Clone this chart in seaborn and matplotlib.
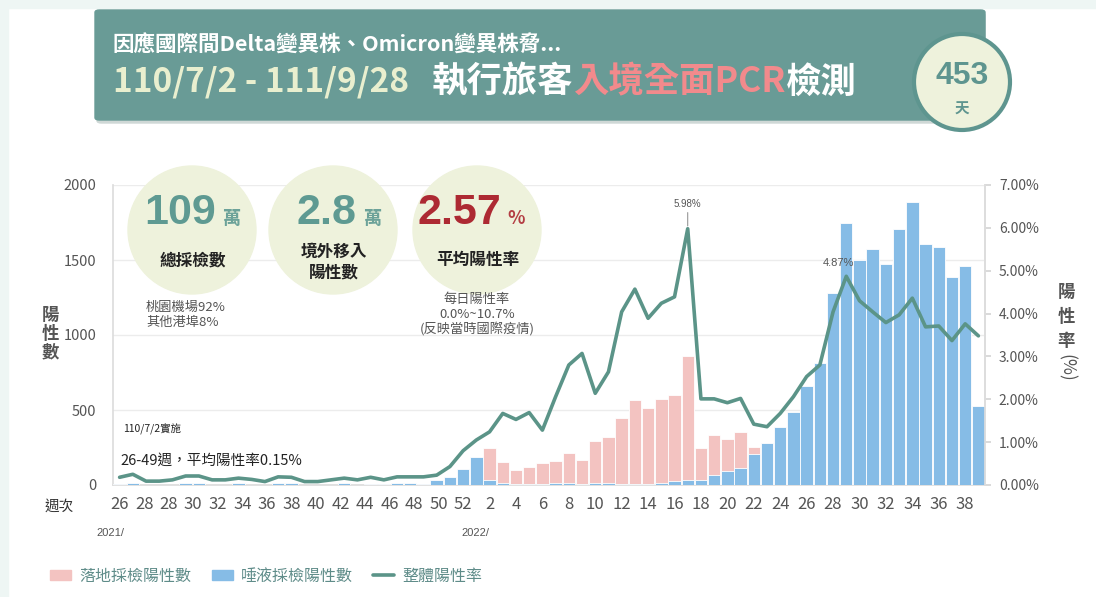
import numpy as np
import pandas as pd
import matplotlib
matplotlib.use("Agg")
import matplotlib.pyplot as plt
import seaborn as sns
from matplotlib.patches import Ellipse, FancyBboxPatch, Patch
from matplotlib.lines import Line2D

# ---- data ----
weeks_2021 = list(range(26, 53))
weeks_2022 = list(range(1, 40))

saliva = [5, 11, 3, 3, 3, 11, 11, 3, 3, 11, 3, 3, 11, 11, 3, 3, 3, 11, 3, 8,
          5, 13, 13, 10, 33, 56, 104, 189,
          33, 11, 7, 7, 7, 11, 11, 7, 15, 15, 7, 7, 7, 15, 26, 33, 33, 67, 96, 111, 207,
          278, 389, 484, 660, 816, 1282, 1744, 1500, 1573, 1473, 1707, 1884, 1607,
          1584, 1389, 1462, 529]
landing = [0] * 28 + [216, 140, 93, 115, 142, 151, 200, 160, 281, 307, 442, 560, 509,
                      556, 574, 827, 211, 265, 210, 240, 49] + [0] * 17
rate = [0.18, 0.25, 0.09, 0.09, 0.12, 0.21, 0.21, 0.12, 0.12, 0.16, 0.13, 0.08,
        0.19, 0.18, 0.08, 0.08, 0.12, 0.16, 0.12, 0.18, 0.12, 0.19, 0.19, 0.19,
        0.23, 0.43, 0.80, 1.05,
        1.24, 1.67, 1.53, 1.69, 1.28, 2.06, 2.80, 3.07, 2.14, 2.64, 4.04, 4.57,
        3.89, 4.24, 4.39, 5.98, 2.01, 2.01, 1.92, 2.02, 1.42, 1.36, 1.67, 2.06,
        2.53, 2.80, 4.04, 4.87, 4.30, 4.04, 3.79, 3.97, 4.36, 3.69, 3.71, 3.37,
        3.76, 3.48]

labels_2021 = ["26", "28", "28", "30", "32", "34", "36", "38", "40", "42",
               "44", "46", "48", "50", "52"]
labels_2022 = [str(w) for w in range(2, 39, 2)]
peak_labels = {"2022-17": "5.98%", "2022-29": "4.87%"}

week_ids = [f"2021-{w}" for w in weeks_2021] + [f"2022-{w}" for w in weeks_2022]
df = pd.DataFrame({"week": week_ids, "saliva": saliva, "landing": landing, "rate": rate})
df["total"] = df["saliva"] + df["landing"]
df["pos"] = np.arange(len(df))

# ---- style ----
W, H = 1096, 597
sns.set_theme(style="white")
plt.rcParams["font.family"] = ["Noto Sans CJK TC", "DejaVu Sans"]
NUM = ["Liberation Sans", "Noto Sans CJK TC"]

TEAL = "#5b9488"
BANNER = "#699b96"
BLUE = "#86bce6"
PINK = "#f3c3c1"
CIRCLE = "#eef2dc"
GRAY = "#555555"


def fx(x):
    return x / W


def fy(y):
    return 1 - y / H


fig = plt.figure(figsize=(W / 100, H / 100), dpi=100)
renderer = fig.canvas.get_renderer()

# page frame
fig.add_artist(plt.Rectangle((0, 0), fx(8), 1, transform=fig.transFigure,
                             color="#eef6f4", zorder=0))
fig.add_artist(plt.Rectangle((0, fy(8)), 1, 1, transform=fig.transFigure,
                             color="#eef6f4", zorder=0))

ax = fig.add_axes([fx(113), fy(485), fx(872), 300 / H])
sns.barplot(data=df, x="week", y="total", order=week_ids, color=PINK, saturation=1,
            width=0.94, edgecolor="white", linewidth=0.6, ax=ax, zorder=2)
sns.barplot(data=df, x="week", y="saliva", order=week_ids, color=BLUE, saturation=1,
            width=0.94, edgecolor="white", linewidth=0.6, ax=ax, zorder=3)
ax.set_ylim(0, 2000)
ax.set_yticks([0, 500, 1000, 1500, 2000])
ax.set_yticklabels(["0", "500", "1000", "1500", "2000"])
ax.set_xlabel("")
ax.set_ylabel("")
ax.grid(axis="y", color="#ececec", lw=1)
ax.set_axisbelow(True)
for s in ["left", "bottom", "right"]:
    ax.spines[s].set_color("#dddddd")
ax.spines["top"].set_visible(False)
ax.tick_params(axis="y", length=0, labelsize=10.5, labelcolor=GRAY, pad=12)

# x ticks
pos_2021 = np.linspace(0, weeks_2021.index(52), len(labels_2021))
pos_2022 = [week_ids.index(f"2022-{l}") for l in labels_2022]
ax.set_xticks(list(pos_2021) + pos_2022)
ax.set_xticklabels(labels_2021 + labels_2022)
ax.set_xticks(np.arange(len(df) + 1) - 0.5, minor=True)
ax.tick_params(axis="x", which="major", length=0, labelsize=12, labelcolor=GRAY, pad=8)
ax.tick_params(axis="x", which="minor", length=5, color="#d5d5d5", width=1)
ax.set_xlim(-0.5, len(df) - 0.5)

ax2 = ax.twinx()
sns.lineplot(data=df, x="pos", y="rate", color=TEAL, lw=2.6, ax=ax2, zorder=5)
ax2.set_ylim(0, 7)
ax2.set_yticks(range(0, 8))
ax2.set_yticklabels([f"{v:.2f}%" for v in range(0, 8)])
ax2.tick_params(axis="y", length=4, color="#d5d5d5", labelsize=10, labelcolor=GRAY, pad=6)
ax2.set_ylabel("")
ax2.set_xlabel("")
for s in ["left", "bottom", "top"]:
    ax2.spines[s].set_visible(False)
ax2.spines["right"].set_color("#dddddd")
ax2.set_xlim(-0.5, len(df) - 0.5)

for wk, txt in peak_labels.items():
    r = df.loc[df["week"] == wk].iloc[0]
    if txt == "5.98%":
        ax2.annotate(txt, (r["pos"], r["rate"]), xytext=(0, 14), textcoords="offset points",
                     ha="center", va="bottom", fontsize=7, color=GRAY, family=NUM,
                     arrowprops=dict(arrowstyle="-", color="#888888", lw=0.7,
                                     shrinkA=0, shrinkB=2))
    else:
        ax2.annotate(txt, (r["pos"], r["rate"]), xytext=(-6, 6), textcoords="offset points",
                     ha="center", va="bottom", fontsize=8, color=GRAY, family=NUM)

ax.text(0.3, 370, "110/7/2實施", fontsize=7.5, color="#222222", va="center")
ax.text(0.1, 160, "26-49週，平均陽性率0.15%", fontsize=10.5, color="#222222", va="center")

# axis titles
fig.text(fx(50), fy(334), "陽\n性\n數", fontsize=12.5, fontweight="bold", color=GRAY,
         ha="center", va="center", linespacing=1.05)
for ch, yy in zip("陽性率", [292, 317, 341]):
    fig.text(fx(1066), fy(yy), ch, fontsize=12.5, fontweight="bold", color=GRAY,
             ha="center", va="center")
fig.text(fx(1066), fy(368), "(%)", fontsize=12.5, color=GRAY, rotation=-90,
         ha="center", va="center")
fig.text(fx(59), fy(507), "週次", fontsize=10.5, color="#333333", ha="center", va="center")
fig.text(fx(110), fy(533), "2021/", fontsize=8, color=GRAY, ha="center", va="center", family=NUM)
fig.text(fx(475), fy(533), "2022/", fontsize=8, color=GRAY, ha="center", va="center", family=NUM)

# header banner
fig.add_artist(FancyBboxPatch((fx(97), fy(123)), fx(888), 110 / H,
                              boxstyle="round,pad=0,rounding_size=0.004",
                              transform=fig.transFigure, color="#cfd8d6", zorder=2))
fig.add_artist(FancyBboxPatch((fx(95), fy(120)), fx(890), 110 / H,
                              boxstyle="round,pad=0,rounding_size=0.004",
                              transform=fig.transFigure, color=BANNER, zorder=3))
fig.text(fx(112), fy(45), "因應國際間Delta變異株、Omicron變異株脅...", fontsize=15.5,
         fontweight="bold", color="white", va="center", zorder=4)
fig.text(fx(113), fy(82), "110/7/2 - 111/9/28", fontsize=24, fontweight="bold",
         color="#e9efcf", va="center", zorder=4)
x0 = 432
for piece, col in [("執行旅客", "white"), ("入境全面PCR", "#f28a8c"), ("檢測", "white")]:
    t = fig.text(fx(x0), fy(82), piece, fontsize=25.5, fontweight="bold", color=col,
                 va="center", zorder=4)
    x0 += t.get_window_extent(renderer).width
fig.add_artist(Ellipse((fx(962), fy(82)), 96 / W, 96 / H, transform=fig.transFigure,
                       facecolor=CIRCLE, edgecolor="#5e958f", lw=3, zorder=5))
fig.text(fx(962), fy(76), "453", fontsize=23, fontweight="bold", color="#5e958f",
         ha="center", va="center", family=NUM, zorder=6)
fig.text(fx(962), fy(109), "天", fontsize=10.5, fontweight="bold", color="#5e958f",
         ha="center", va="center", zorder=6)

# summary circles
circles = [
    (192, "109", "萬", "總採檢數", "#5e9a92"),
    (333, "2.8", "萬", "境外移入\n陽性數", "#5e9a92"),
    (477, "2.57", "%", "平均陽性率", "#ad2a33"),
]
for cx, big, unit, cap, col in circles:
    fig.add_artist(Ellipse((fx(cx), fy(230)), 128 / W, 128 / H, transform=fig.transFigure,
                           color=CIRCLE, zorder=3))
    fig.text(fx(cx + 24), fy(213), big, fontsize=31, fontweight="bold", color=col,
             ha="right", va="center", family=NUM, zorder=4)
    fig.text(fx(cx + 30), fy(219), unit, fontsize=13, fontweight="bold", color=col,
             ha="left", va="center", zorder=4, alpha=0.9)
    fig.text(fx(cx + 1), fy(260 if "\n" not in cap else 262), cap, fontsize=12,
             fontweight="bold", color="#222222", ha="center", va="center",
             linespacing=1.2, zorder=4)

fig.text(fx(146), fy(315), "桃園機場92%\n其他港埠8%", fontsize=9.5, color=GRAY,
         ha="left", va="center", linespacing=1.15, zorder=4)
fig.text(fx(477), fy(315), "每日陽性率\n0.0%~10.7%\n(反映當時國際疫情)", fontsize=9.5,
         color=GRAY, ha="center", va="center", linespacing=1.15, zorder=4)

handles = [Patch(color=PINK), Patch(color=BLUE), Line2D([], [], color=TEAL, lw=2.6)]
fig.legend(handles, ["落地採檢陽性數", "唾液採檢陽性數", "整體陽性率"],
           loc="center left", bbox_to_anchor=(fx(36), fy(576)), ncol=3, frameon=False,
           fontsize=11.5, labelcolor="#5f8c89", handlelength=1.3, handleheight=0.6,
           columnspacing=1.3, handletextpad=0.5)

fig.savefig("out.png", dpi=100)
